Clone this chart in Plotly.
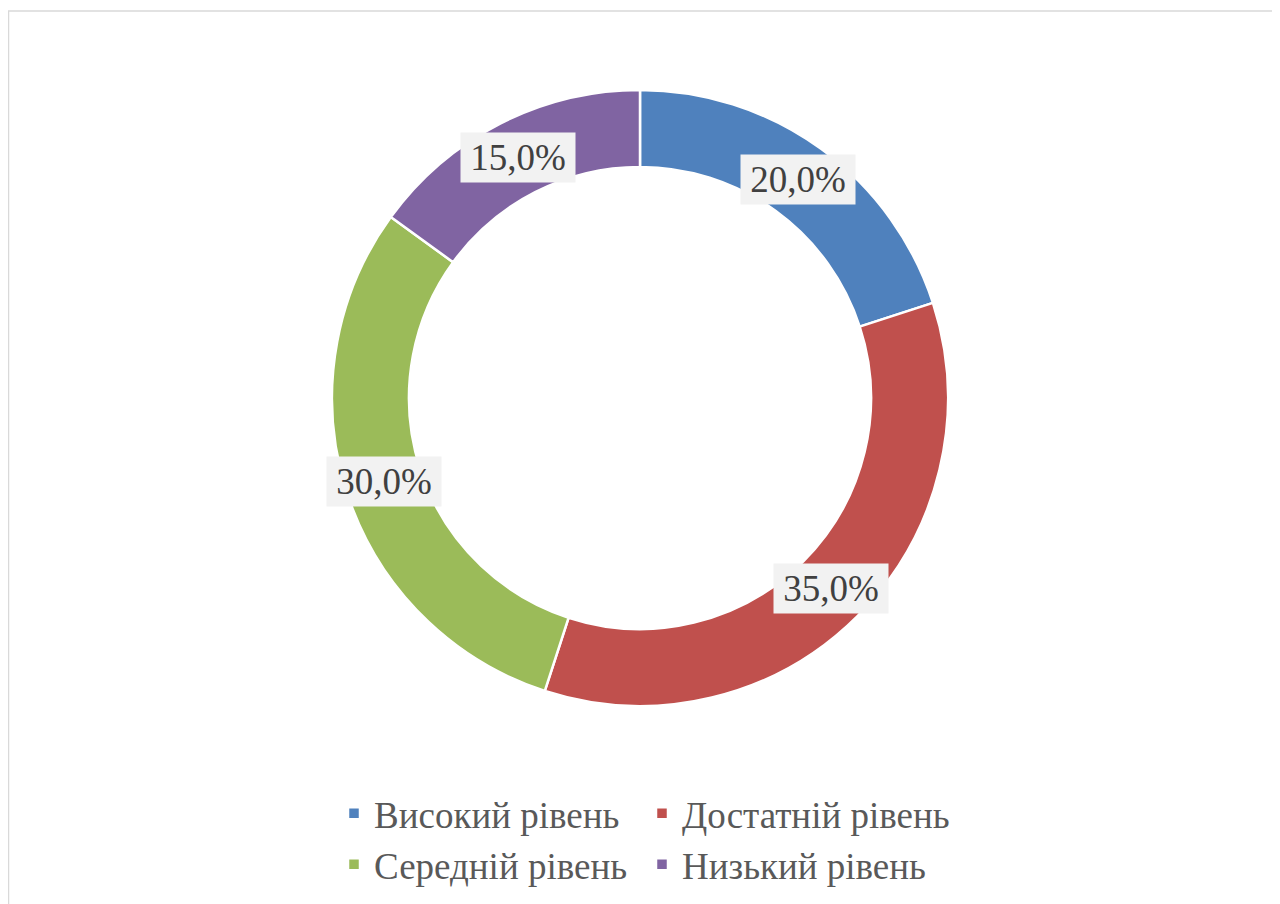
import math
import plotly.graph_objects as go

categories = ["Високий рівень", "Достатній рівень", "Середній рівень", "Низький рівень"]
values = [20.0, 35.0, 30.0, 15.0]
colors = ["#4F81BD", "#C0504D", "#9BBB59", "#8064A2"]
label_texts = [f"{v:.1f}%".replace(".", ",") for v in values]

# the page body adds an 8px margin, so the figure is 8px smaller each way
W, H = 1272, 896
ML, MT, PW, PH = 307, 82, 650, 616
MR, MB = W - ML - PW, H - MT - PH
HOLE = 0.75
FONT = "Liberation Serif, Times New Roman, serif"

fig = go.Figure(go.Pie(
    labels=categories,
    values=values,
    hole=HOLE,
    sort=False,
    direction="clockwise",
    rotation=0,
    textinfo="none",
    hoverinfo="label+percent",
    marker=dict(colors=colors, line=dict(color="#FFFFFF", width=2.5)),
))

# data labels placed at the middle of the ring, at each slice's mid-angle
R = min(PW, PH) / 2
r_mid = R * (1 + HOLE) / 2
total = sum(values)
cum = 0.0
annotations = []
for v, t in zip(values, label_texts):
    mid = (cum + v / 2) / total * 2 * math.pi
    cum += v
    xp = 0.5 + r_mid * math.sin(mid) / PW
    yp = 0.5 + r_mid * math.cos(mid) / PH
    annotations.append(dict(
        x=xp, y=yp, xref="paper", yref="paper", text=t, showarrow=False,
        xanchor="center", yanchor="middle",
        font=dict(family=FONT, size=37, color="#404040"),
        bgcolor="#F2F2F2", width=110, height=45, borderpad=2,
    ))

fig.update_layout(
    width=W, height=H,
    margin=dict(l=ML, r=MR, t=MT, b=MB, autoexpand=False),
    paper_bgcolor="#FFFFFF",
    plot_bgcolor="#FFFFFF",
    annotations=annotations,
    showlegend=True,
    legend=dict(
        orientation="h",
        x=(326 - ML) / PW, xanchor="left",
        y=-0.1245, yanchor="top",
        font=dict(family=FONT, size=37, color="#595959"),
        entrywidth=263, entrywidthmode="pixels",
        traceorder="normal",
    ),
    shapes=[dict(
        type="rect", xref="paper", yref="paper",
        x0=(0.5 - ML) / PW, x1=(1266.5 - ML) / PW,
        y0=-1.0, y1=(MT + PH - 3) / PH,
        line=dict(color="#D9D9D9", width=1.5), fillcolor="rgba(0,0,0,0)",
        layer="below",
    )],
)

fig.write_html("out.html")
